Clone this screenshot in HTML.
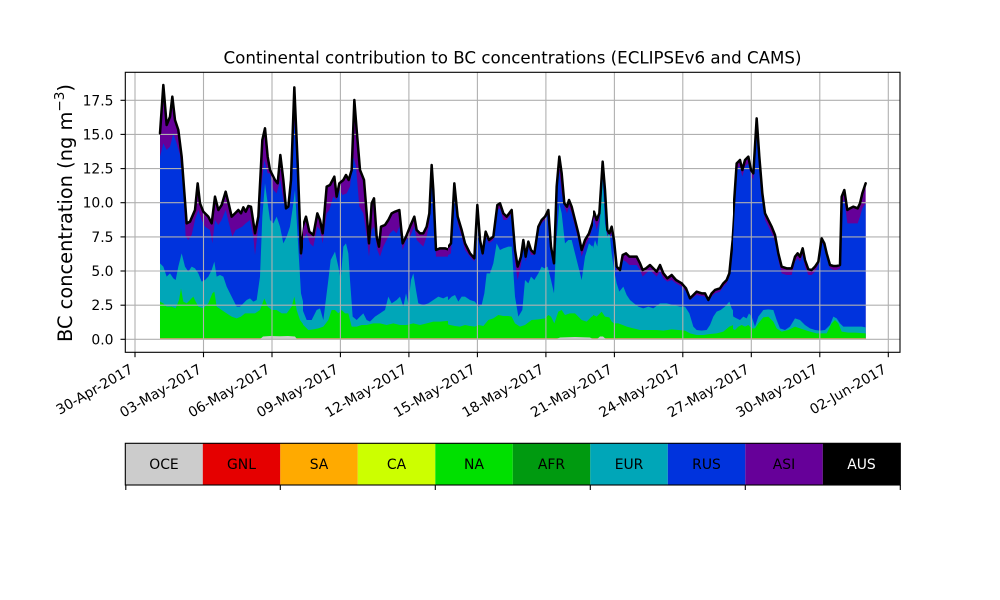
<!DOCTYPE html>
<html><head><meta charset="utf-8"><style>
html,body{margin:0;padding:0;background:#fff;}
svg{display:block;font-family:"DejaVu Sans","Liberation Sans",sans-serif;}
</style></head><body>
<svg width="1000" height="600" viewBox="0 0 1000 600" xmlns="http://www.w3.org/2000/svg">
<rect x="0" y="0" width="1000" height="600" fill="#fff"/>
<defs>
<clipPath id="c5" clipPathUnits="userSpaceOnUse"><rect x="150" y="60" width="153" height="290"/></clipPath>
<clipPath id="c6" clipPathUnits="userSpaceOnUse"><rect x="303" y="60" width="145" height="290"/></clipPath>
<clipPath id="c7" clipPathUnits="userSpaceOnUse"><rect x="448" y="60" width="145" height="290"/></clipPath>
<clipPath id="c8" clipPathUnits="userSpaceOnUse"><rect x="593" y="60" width="140" height="290"/></clipPath>
<clipPath id="c9" clipPathUnits="userSpaceOnUse"><rect x="733" y="60" width="140" height="290"/></clipPath>
</defs>

<!-- SEGMENT 5 -->
<g clip-path="url(#c5)"><g transform="translate(155,80) scale(0.33333)">
<polygon fill="#660099" points="15,778 15,160 25,15 35,135 45,110 52,50 60,120 70,150 80,230 95,430 105,425 120,390 128,310 135,370 145,395 160,410 170,430 180,350 190,390 200,375 212,335 222,375 230,410 240,400 250,390 258,400 265,382 272,395 280,378 288,380 300,460 310,410 322,180 330,145 338,230 345,270 360,300 368,310 376,225 385,300 393,385 400,380 408,300 418,22 428,250 438,520 450,420 450,778"/>
<polygon fill="#0033dd" points="15,778 15,230 25,190 35,210 45,200 55,160 65,190 75,225 85,330 92,470 100,480 110,465 120,420 130,390 140,420 150,440 165,450 172,490 180,420 190,435 200,420 212,390 222,430 232,470 242,450 252,445 262,440 272,430 285,420 295,470 300,525 310,440 320,310 328,240 338,280 345,280 355,330 365,340 376,300 385,360 393,390 400,380 410,300 418,120 428,300 438,540 450,430 450,778"/>
<polygon fill="#00a6b8" points="15,778 15,550 25,560 35,590 45,580 55,595 62,600 70,560 80,520 90,560 100,575 110,560 120,565 130,580 140,605 150,600 160,590 170,570 178,545 185,590 195,585 205,590 215,620 225,640 235,660 245,680 255,680 265,670 275,660 285,655 295,665 305,660 315,590 322,410 330,310 338,370 345,420 355,430 365,410 375,440 385,490 395,470 405,440 415,370 420,330 428,470 438,640 450,690 450,778"/>
<polygon fill="#00e000" points="15,778 15,665 25,670 35,680 50,680 62,685 72,660 78,625 85,665 95,670 105,660 115,650 122,665 130,680 145,685 160,670 172,640 178,635 185,680 200,690 215,700 230,710 245,715 258,710 270,700 285,700 300,700 315,690 328,655 338,680 350,690 365,690 380,700 395,700 410,680 418,650 425,690 435,720 450,740 450,778"/>
</g></g>

<!-- SEGMENT 6 -->
<g clip-path="url(#c6)"><g transform="translate(300,80) scale(0.33333)">
<polygon fill="#660099" points="0,778 0,470 8,440 18,410 28,455 40,465 52,400 60,420 68,460 80,320 90,315 103,290 110,350 118,310 130,300 138,285 146,300 155,270 163,60 170,150 180,270 192,300 200,400 207,490 215,370 222,355 230,470 237,500 243,440 255,435 265,420 275,400 285,395 298,390 308,490 318,470 330,440 343,410 350,450 360,460 370,460 380,440 388,400 395,255 400,330 408,510 420,505 435,505 450,510 450,778"/>
<polygon fill="#0033dd" points="0,778 0,495 10,480 20,460 30,490 40,500 52,440 60,450 68,490 80,400 88,390 100,350 110,360 118,330 128,345 140,340 150,320 160,230 168,260 178,380 190,400 200,470 207,530 215,450 222,440 232,510 240,530 250,500 260,480 270,460 280,450 290,460 298,440 308,510 318,480 330,470 343,440 350,480 360,490 370,500 380,470 388,430 395,300 400,360 408,530 420,530 435,530 450,530 450,778"/>
<polygon fill="#00a6b8" points="0,778 0,640 8,690 20,720 35,720 50,690 60,685 70,720 85,600 92,540 105,515 115,560 122,600 130,500 138,490 145,520 150,600 158,710 170,720 180,710 190,700 200,720 210,725 225,710 240,700 255,690 265,650 275,670 290,660 300,650 310,680 318,640 325,670 333,600 340,580 348,630 355,670 370,675 385,670 400,660 415,650 430,655 440,650 450,650 450,778"/>
<polygon fill="#00e000" points="0,778 0,720 10,735 25,750 40,748 55,745 70,740 85,720 95,690 105,690 115,700 125,690 135,700 145,700 155,740 170,740 185,735 200,735 220,730 240,730 260,735 280,730 300,735 320,735 340,730 360,735 380,730 400,725 420,725 450,722 450,778"/>
</g></g>

<!-- SEGMENT 7 -->
<g clip-path="url(#c7)"><g transform="translate(445,80) scale(0.33333)">
<polygon fill="#660099" points="0,778 0,505 10,500 18,490 28,310 38,410 50,450 60,490 75,520 88,535 97,375 105,480 113,520 122,455 132,480 145,470 157,375 165,370 175,400 185,410 200,390 210,510 218,560 228,530 235,480 242,530 250,485 258,510 268,520 280,440 290,420 300,410 310,390 318,500 327,550 335,320 343,230 350,280 358,370 366,380 372,360 380,380 390,420 400,460 410,510 420,480 432,460 442,430 450,395 450,778"/>
<polygon fill="#0033dd" points="0,778 0,530 10,525 18,520 28,330 38,430 50,470 60,510 75,530 88,545 97,380 105,490 113,530 122,470 132,490 145,480 157,390 165,385 175,420 185,420 200,400 210,550 218,600 228,555 235,500 242,545 250,500 258,525 268,525 280,450 290,430 300,420 310,400 318,505 327,555 335,340 343,270 350,340 358,380 366,400 372,380 380,400 390,440 400,480 410,530 420,500 432,475 442,445 450,420 450,778"/>
<polygon fill="#00a6b8" points="0,778 0,650 10,660 20,650 30,645 40,665 50,650 60,650 75,660 90,665 100,680 110,675 118,640 125,580 135,580 145,550 155,490 165,510 175,505 190,500 200,500 210,650 220,710 232,690 240,600 250,610 258,590 268,600 280,580 290,560 298,565 308,560 318,600 327,640 333,500 343,370 350,400 360,490 370,480 380,480 390,520 400,560 410,600 420,530 432,490 442,500 450,480 450,778"/>
<polygon fill="#00e000" points="0,778 0,730 15,735 30,738 45,740 60,735 75,738 90,740 100,735 115,738 130,720 145,715 160,705 175,708 190,708 200,710 210,730 225,740 240,735 260,720 280,718 300,715 310,705 318,710 328,730 340,695 350,690 360,705 375,700 390,700 400,710 410,720 425,725 440,710 450,705 450,778"/>
</g></g>

<!-- SEGMENT 8 -->
<g clip-path="url(#c8)"><g transform="translate(590,80) scale(0.33333)">
<polygon fill="#660099" points="0,778 0,430 5,420 12,395 20,420 28,400 38,245 45,330 52,450 58,460 65,440 72,480 80,560 90,570 98,525 108,520 118,530 128,530 140,530 150,550 158,570 168,565 180,555 190,565 200,575 210,555 220,580 232,595 245,585 258,600 275,610 288,625 300,655 310,645 320,635 335,640 345,640 355,660 365,640 375,630 390,625 400,610 410,600 418,580 428,480 436,350 442,250 450,245 450,778"/>
<polygon fill="#0033dd" points="0,778 0,460 5,450 12,415 20,450 28,420 38,260 45,350 52,470 58,480 65,460 72,500 80,575 90,575 98,540 108,545 118,555 128,555 140,555 150,570 158,590 168,580 180,570 190,580 200,590 210,575 220,595 232,605 245,600 258,610 275,620 288,635 300,660 310,652 320,645 335,648 345,650 355,665 365,650 375,640 390,635 400,620 410,610 418,590 428,490 436,360 442,260 450,260 450,778"/>
<polygon fill="#00a6b8" points="0,778 0,545 8,510 15,480 22,500 30,420 38,300 45,430 52,470 58,450 65,520 72,570 80,610 88,635 100,620 110,645 120,660 132,670 145,680 160,685 175,680 190,685 210,670 230,670 250,675 270,680 285,680 298,700 310,740 320,750 335,752 350,750 360,735 370,710 380,695 392,690 405,680 418,665 425,685 435,700 450,700 450,778"/>
<polygon fill="#00e000" points="0,778 0,710 10,705 20,710 35,695 45,710 58,712 65,725 72,730 85,730 98,735 110,740 130,745 150,750 175,750 200,750 220,752 245,748 265,750 285,752 300,760 320,765 340,765 360,762 380,760 400,755 418,740 430,735 440,740 450,745 450,778"/>
</g></g>

<!-- SEGMENT 9 -->
<g clip-path="url(#c9)"><g transform="translate(725,80) scale(0.33333)">
<polygon fill="#660099" points="0,778 0,600 10,600 15,570 25,400 35,250 45,240 52,270 60,240 70,230 78,270 85,280 95,115 103,230 112,340 120,400 130,420 140,440 150,465 160,520 170,560 185,565 200,565 210,530 218,520 225,530 233,505 240,540 250,568 260,570 270,560 280,545 290,475 298,490 305,520 315,555 325,558 335,558 345,555 350,350 358,330 367,390 375,385 385,380 398,385 405,370 412,340 422,310 422,778"/>
<polygon fill="#0033dd" points="0,778 0,615 10,615 15,585 25,420 35,265 45,260 52,290 60,260 70,250 78,285 85,300 95,140 103,250 112,355 120,420 130,440 140,460 150,485 160,540 170,580 185,585 200,585 210,545 218,535 225,545 233,525 240,560 250,585 260,585 270,575 280,555 290,485 298,500 305,530 315,565 325,570 335,570 345,565 350,370 358,360 367,430 375,430 385,430 398,430 405,410 412,385 422,370 422,778"/>
<polygon fill="#00a6b8" points="0,778 0,680 10,690 18,670 25,710 35,715 45,720 55,710 65,715 72,700 80,710 90,740 100,710 115,690 130,688 145,690 155,720 165,745 180,750 195,740 210,715 225,720 240,735 255,745 270,750 285,752 300,750 315,735 325,710 335,715 345,730 355,740 370,740 390,740 410,740 422,742 422,778"/>
<polygon fill="#00e000" points="0,778 0,740 10,735 20,745 30,750 40,740 50,735 60,740 70,735 80,745 90,745 100,730 115,712 130,710 145,725 155,745 170,755 190,750 210,740 225,745 240,750 255,755 275,760 290,760 305,760 320,730 330,720 340,730 350,755 370,758 390,758 422,760 422,778"/>
</g></g>

<!-- bottom minor layers -->
<line x1="160" y1="338.6" x2="866" y2="338.6" stroke="#d8a050" stroke-width="1"/>
<polygon fill="#cccccc" points="260,339.3 263,336.5 270,336 280,336.3 288,336 295,336.5 297,339.3"/>
<polygon fill="#cccccc" points="556,339.3 560,337.5 575,337 590,337.5 593,339.3"/>
<polygon fill="#cccccc" points="597,339.3 600,336.5 603,336.5 606,339.3"/>

<!-- grid -->
<g stroke="#b0b0b0" stroke-width="1.1">
<line x1="135.0" y1="72.3" x2="135.0" y2="352.3"/>
<line x1="203.5" y1="72.3" x2="203.5" y2="352.3"/>
<line x1="272.0" y1="72.3" x2="272.0" y2="352.3"/>
<line x1="340.4" y1="72.3" x2="340.4" y2="352.3"/>
<line x1="408.9" y1="72.3" x2="408.9" y2="352.3"/>
<line x1="477.4" y1="72.3" x2="477.4" y2="352.3"/>
<line x1="545.9" y1="72.3" x2="545.9" y2="352.3"/>
<line x1="614.4" y1="72.3" x2="614.4" y2="352.3"/>
<line x1="682.8" y1="72.3" x2="682.8" y2="352.3"/>
<line x1="751.3" y1="72.3" x2="751.3" y2="352.3"/>
<line x1="819.8" y1="72.3" x2="819.8" y2="352.3"/>
<line x1="888.3" y1="72.3" x2="888.3" y2="352.3"/>
<line x1="125.3" y1="339.3" x2="900" y2="339.3"/>
<line x1="125.3" y1="305.2" x2="900" y2="305.2"/>
<line x1="125.3" y1="271.0" x2="900" y2="271.0"/>
<line x1="125.3" y1="236.9" x2="900" y2="236.9"/>
<line x1="125.3" y1="202.7" x2="900" y2="202.7"/>
<line x1="125.3" y1="168.6" x2="900" y2="168.6"/>
<line x1="125.3" y1="134.4" x2="900" y2="134.4"/>
<line x1="125.3" y1="100.3" x2="900" y2="100.3"/>
</g>

<!-- black total lines -->
<g fill="none" stroke="#000" stroke-width="7.5" stroke-linejoin="round" stroke-linecap="round">
<g clip-path="url(#c5)"><polyline transform="translate(155,80) scale(0.33333)" points="15,160 25,15 35,135 45,110 52,50 60,120 70,150 80,230 95,430 105,425 120,390 128,310 135,370 145,395 160,410 170,430 180,350 190,390 200,375 212,335 222,375 230,410 240,400 250,390 258,400 265,382 272,395 280,378 288,380 300,460 310,410 322,180 330,145 338,230 345,270 360,300 368,310 376,225 385,300 393,385 400,380 408,300 418,22 428,250 438,520 450,420"/></g>
<g clip-path="url(#c6)"><polyline transform="translate(300,80) scale(0.33333)" points="0,470 8,440 18,410 28,455 40,465 52,400 60,420 68,460 80,320 90,315 103,290 110,350 118,310 130,300 138,285 146,300 155,270 163,60 170,150 180,270 192,300 200,400 207,490 215,370 222,355 230,470 237,500 243,440 255,435 265,420 275,400 285,395 298,390 308,490 318,470 330,440 343,410 350,450 360,460 370,460 380,440 388,400 395,255 400,330 408,510 420,505 435,505 450,510"/></g>
<g clip-path="url(#c7)"><polyline transform="translate(445,80) scale(0.33333)" points="0,505 10,500 18,490 28,310 38,410 50,450 60,490 75,520 88,535 97,375 105,480 113,520 122,455 132,480 145,470 157,375 165,370 175,400 185,410 200,390 210,510 218,560 228,530 235,480 242,530 250,485 258,510 268,520 280,440 290,420 300,410 310,390 318,500 327,550 335,320 343,230 350,280 358,370 366,380 372,360 380,380 390,420 400,460 410,510 420,480 432,460 442,430 450,395"/></g>
<g clip-path="url(#c8)"><polyline transform="translate(590,80) scale(0.33333)" points="0,430 5,420 12,395 20,420 28,400 38,245 45,330 52,450 58,460 65,440 72,480 80,560 90,570 98,525 108,520 118,530 128,530 140,530 150,550 158,570 168,565 180,555 190,565 200,575 210,555 220,580 232,595 245,585 258,600 275,610 288,625 300,655 310,645 320,635 335,640 345,640 355,660 365,640 375,630 390,625 400,610 410,600 418,580 428,480 436,350 442,250 450,245"/></g>
<g clip-path="url(#c9)"><polyline transform="translate(725,80) scale(0.33333)" points="0,600 10,600 15,570 25,400 35,250 45,240 52,270 60,240 70,230 78,270 85,280 95,115 103,230 112,340 120,400 130,420 140,440 150,465 160,520 170,560 185,565 200,565 210,530 218,520 225,530 233,505 240,540 250,568 260,570 270,560 280,545 290,475 298,490 305,520 315,555 325,558 335,558 345,555 350,350 358,330 367,390 375,385 385,380 398,385 405,370 412,340 422,310"/></g>
</g>

<!-- axes frame -->
<rect x="125.3" y="72.3" width="774.7" height="280" fill="none" stroke="#000" stroke-width="1.1"/>

<!-- ticks -->
<g stroke="#000" stroke-width="1.1">
<line x1="120.5" y1="339.3" x2="125.3" y2="339.3"/>
<line x1="120.5" y1="305.2" x2="125.3" y2="305.2"/>
<line x1="120.5" y1="271.0" x2="125.3" y2="271.0"/>
<line x1="120.5" y1="236.9" x2="125.3" y2="236.9"/>
<line x1="120.5" y1="202.7" x2="125.3" y2="202.7"/>
<line x1="120.5" y1="168.6" x2="125.3" y2="168.6"/>
<line x1="120.5" y1="134.4" x2="125.3" y2="134.4"/>
<line x1="120.5" y1="100.3" x2="125.3" y2="100.3"/>
<line x1="135.0" y1="352.3" x2="135.0" y2="357.2"/>
<line x1="203.5" y1="352.3" x2="203.5" y2="357.2"/>
<line x1="272.0" y1="352.3" x2="272.0" y2="357.2"/>
<line x1="340.4" y1="352.3" x2="340.4" y2="357.2"/>
<line x1="408.9" y1="352.3" x2="408.9" y2="357.2"/>
<line x1="477.4" y1="352.3" x2="477.4" y2="357.2"/>
<line x1="545.9" y1="352.3" x2="545.9" y2="357.2"/>
<line x1="614.4" y1="352.3" x2="614.4" y2="357.2"/>
<line x1="682.8" y1="352.3" x2="682.8" y2="357.2"/>
<line x1="751.3" y1="352.3" x2="751.3" y2="357.2"/>
<line x1="819.8" y1="352.3" x2="819.8" y2="357.2"/>
<line x1="888.3" y1="352.3" x2="888.3" y2="357.2"/>
</g>

<!-- y tick labels -->
<g font-size="13.9" fill="#000" text-anchor="end">
<text x="113.5" y="344.3">0.0</text>
<text x="113.5" y="310.2">2.5</text>
<text x="113.5" y="276.0">5.0</text>
<text x="113.5" y="241.9">7.5</text>
<text x="113.5" y="207.7">10.0</text>
<text x="113.5" y="173.6">12.5</text>
<text x="113.5" y="139.4">15.0</text>
<text x="113.5" y="105.3">17.5</text>
</g>

<!-- x tick labels -->
<g font-size="13.9" fill="#000" text-anchor="end">
<text transform="translate(134,372) rotate(-30)">30-Apr-2017</text>
<text transform="translate(202.5,372) rotate(-30)">03-May-2017</text>
<text transform="translate(271,372) rotate(-30)">06-May-2017</text>
<text transform="translate(339.4,372) rotate(-30)">09-May-2017</text>
<text transform="translate(407.9,372) rotate(-30)">12-May-2017</text>
<text transform="translate(476.4,372) rotate(-30)">15-May-2017</text>
<text transform="translate(544.9,372) rotate(-30)">18-May-2017</text>
<text transform="translate(613.4,372) rotate(-30)">21-May-2017</text>
<text transform="translate(681.8,372) rotate(-30)">24-May-2017</text>
<text transform="translate(750.3,372) rotate(-30)">27-May-2017</text>
<text transform="translate(818.8,372) rotate(-30)">30-May-2017</text>
<text transform="translate(887.3,372) rotate(-30)">02-Jun-2017</text>
</g>

<!-- y label -->
<text transform="translate(72,213) rotate(-90)" font-size="19.4" text-anchor="middle" fill="#000">BC concentration (ng m<tspan font-size="13.6" dy="-8">−3</tspan><tspan dy="8">)</tspan></text>

<!-- title -->
<text x="512.5" y="63.5" font-size="16.67" text-anchor="middle" fill="#000" textLength="578" lengthAdjust="spacingAndGlyphs">Continental contribution to BC concentrations (ECLIPSEv6 and CAMS)</text>

<!-- colorbar legend -->
<g>
<rect x="125.3" y="443.3" width="77.5" height="41.7" fill="#cccccc"/>
<rect x="202.8" y="443.3" width="77.5" height="41.7" fill="#e50000"/>
<rect x="280.3" y="443.3" width="77.5" height="41.7" fill="#ffaa00"/>
<rect x="357.8" y="443.3" width="77.5" height="41.7" fill="#ccff00"/>
<rect x="435.3" y="443.3" width="77.5" height="41.7" fill="#00e000"/>
<rect x="512.8" y="443.3" width="77.5" height="41.7" fill="#009a10"/>
<rect x="590.3" y="443.3" width="77.5" height="41.7" fill="#00a6b8"/>
<rect x="667.8" y="443.3" width="77.5" height="41.7" fill="#0033dd"/>
<rect x="745.3" y="443.3" width="77.5" height="41.7" fill="#660099"/>
<rect x="822.8" y="443.3" width="77.5" height="41.7" fill="#000000"/>
<rect x="125.3" y="443.3" width="775" height="41.7" fill="none" stroke="#000" stroke-width="1.1"/>
</g>
<g stroke="#000" stroke-width="1.1">
<line x1="125.8" y1="485" x2="125.8" y2="490"/>
<line x1="280.3" y1="485" x2="280.3" y2="490"/>
<line x1="435.3" y1="485" x2="435.3" y2="490"/>
<line x1="590.3" y1="485" x2="590.3" y2="490"/>
<line x1="745.3" y1="485" x2="745.3" y2="490"/>
<line x1="900.3" y1="485" x2="900.3" y2="490"/>
</g>
<g font-size="13.9" text-anchor="middle" fill="#000">
<text x="164" y="469">OCE</text>
<text x="241.5" y="469">GNL</text>
<text x="319" y="469">SA</text>
<text x="396.5" y="469">CA</text>
<text x="474" y="469">NA</text>
<text x="551.5" y="469">AFR</text>
<text x="629" y="469">EUR</text>
<text x="706.5" y="469">RUS</text>
<text x="784" y="469">ASI</text>
<text x="861.5" y="469" fill="#fff">AUS</text>
</g>
</svg>
</body></html>
